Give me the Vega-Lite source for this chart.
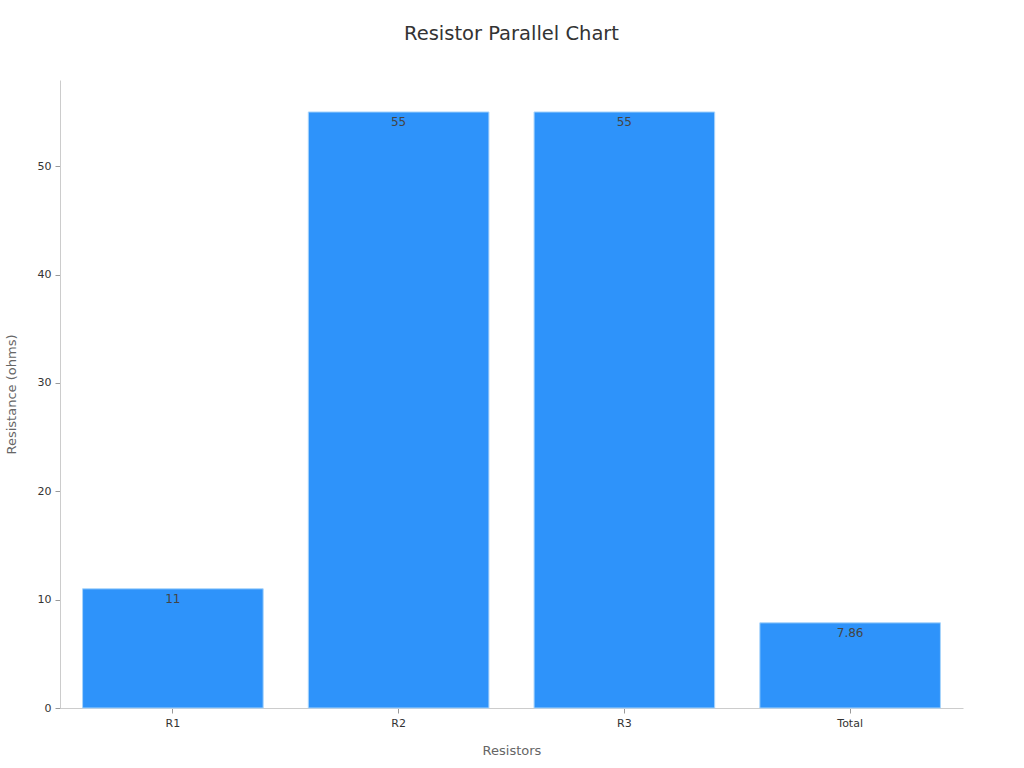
{
  "$schema": "https://vega.github.io/schema/vega-lite/v6.json",
  "autosize": "none",
  "width": 903,
  "height": 628,
  "padding": {"left": 60, "top": 80, "right": 61, "bottom": 60},
  "background": "white",
  "title": {
    "text": "Resistor Parallel Chart",
    "fontSize": 19.5,
    "fontWeight": "normal",
    "color": "#333333",
    "font": "DejaVu Sans",
    "offset": 36
  },
  "data": {
    "values": [
      {"resistor": "R1", "ohms": 11, "label": "11"},
      {"resistor": "R2", "ohms": 55, "label": "55"},
      {"resistor": "R3", "ohms": 55, "label": "55"},
      {"resistor": "Total", "ohms": 7.86, "label": "7.86"}
    ]
  },
  "encoding": {
    "x": {
      "field": "resistor",
      "type": "nominal",
      "title": "Resistors",
      "sort": null,
      "scale": {"paddingInner": 0.2, "paddingOuter": 0.1},
      "axis": {"labelAngle": 0, "titlePadding": 16}
    },
    "y": {
      "field": "ohms",
      "type": "quantitative",
      "title": "Resistance (ohms)",
      "scale": {"domain": [0, 57.95], "nice": false},
      "axis": {"values": [0, 10, 20, 30, 40, 50], "grid": false, "titlePadding": 19}
    }
  },
  "layer": [
    {
      "mark": {"type": "bar", "color": "#2E93FA", "stroke": "#a8d4fb", "strokeWidth": 1}
    },
    {
      "mark": {"type": "text", "baseline": "middle", "dy": 10, "fontSize": 12, "color": "#444444", "font": "DejaVu Sans"},
      "encoding": {"text": {"field": "label"}}
    }
  ],
  "config": {
    "view": {"stroke": null},
    "axis": {
      "domainColor": "#cccccc",
      "tickColor": "#999999",
      "tickSize": 5,
      "labelColor": "#333333",
      "labelFont": "DejaVu Sans",
      "labelFontSize": 11,
      "labelPadding": 4,
      "titleColor": "#666666",
      "titleFont": "DejaVu Sans",
      "titleFontSize": 13,
      "titleFontWeight": "normal"
    }
  }
}
